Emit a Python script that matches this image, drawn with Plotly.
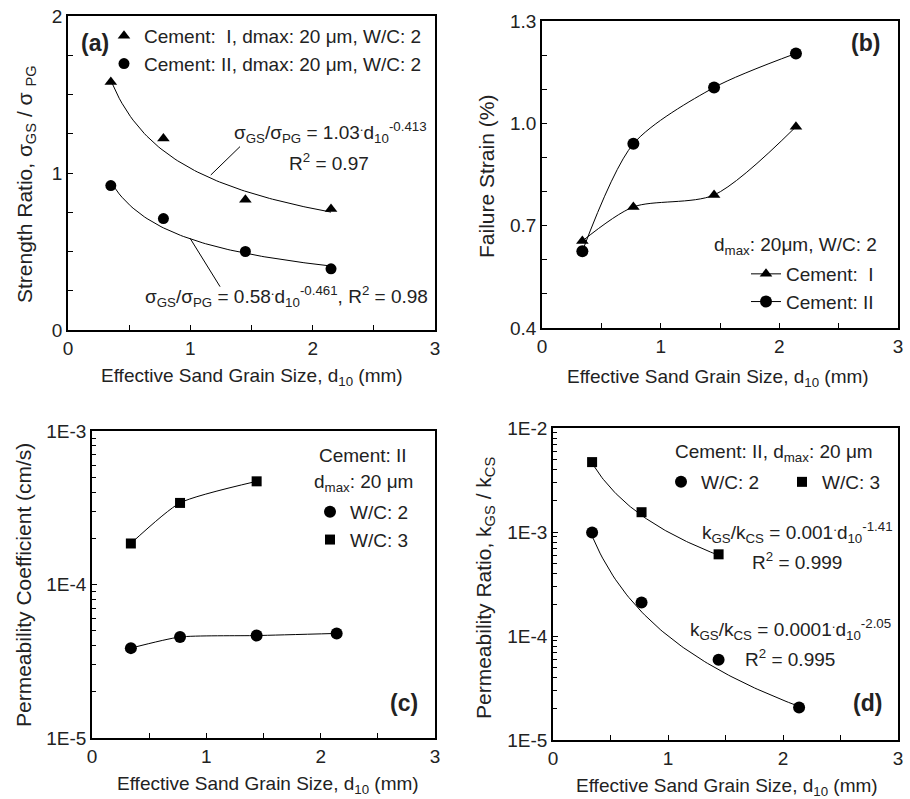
import numpy as np
import plotly.graph_objects as go

# ---------------- data ----------------
# Panel (a): strength ratio
a_d10 = [0.35, 0.78, 1.45, 2.15]
a_cem1 = [1.58, 1.22, 0.83, 0.77]
a_cem2 = [0.92, 0.71, 0.50, 0.39]
a_fit1 = (1.03, -0.413)   # sigma_GS/sigma_PG = 1.03 d10^-0.413
a_fit2 = (0.58, -0.461)   # sigma_GS/sigma_PG = 0.58 d10^-0.461

# Panel (b): failure strain (%)
b_d10 = [0.34, 0.77, 1.45, 2.14]
b_cem1 = [0.655, 0.755, 0.79, 0.99]
b_cem2 = [0.625, 0.94, 1.105, 1.205]

# Panel (c): permeability coefficient (cm/s)
c_d10_wc2 = [0.34, 0.77, 1.44, 2.14]
c_wc2 = [3.85e-5, 4.55e-5, 4.65e-5, 4.8e-5]
c_d10_wc3 = [0.34, 0.77, 1.44]
c_wc3 = [1.85e-4, 3.4e-4, 4.7e-4]

# Panel (d): permeability ratio
d_d10_wc2 = [0.34, 0.77, 1.44, 2.14]
d_wc2 = [9.9e-4, 2.1e-4, 5.9e-5, 2.05e-5]
d_d10_wc3 = [0.34, 0.77, 1.44]
d_wc3 = [4.7e-3, 1.55e-3, 6.1e-4]
d_fit2 = (1e-4, -2.05)
d_fit3 = (1e-3, -1.41)

x_ticks = [0, 1, 2, 3]
b_ticks = [0.4, 0.7, 1.0, 1.3]
b_ticktext = ["0.4", "0.7", "1.0", "1.3"]
c_ticks = [1e-5, 1e-4, 1e-3]
c_ticktext = ["1E-5", "1E-4", "1E-3"]
d_ticks = [1e-5, 1e-4, 1e-3, 1e-2]
d_ticktext = ["1E-5", "1E-4", "1E-3", "1E-2"]

# ---------------- layout helpers ----------------
W, H = 910, 799
FONT = "Liberation Sans, Arial, sans-serif"
FS = 19
FSY = 21                 # vertical axis titles


def px(x):
    return x / W


def py(y):
    return 1 - y / H


def fit_curve(xs, coef):
    xx = np.linspace(min(xs), max(xs), 80)
    return xx, coef[0] * xx ** coef[1]


fig = go.Figure()

line = dict(color="black", width=1)

# (a)
for xs, coef in ((a_d10, a_fit1), (a_d10, a_fit2)):
    xx, yy = fit_curve(xs, coef)
    fig.add_trace(go.Scatter(x=xx, y=yy, mode="lines", line=line, showlegend=False,
                             xaxis="x", yaxis="y", hoverinfo="skip"))
fig.add_trace(go.Scatter(x=a_d10, y=a_cem1, mode="markers", name="Cement:  I, dmax: 20 μm, W/C: 2",
                         marker=dict(symbol="triangle-up", size=11, color="black"),
                         xaxis="x", yaxis="y", legend="legend"))
fig.add_trace(go.Scatter(x=a_d10, y=a_cem2, mode="markers", name="Cement: II, dmax: 20 μm, W/C: 2",
                         marker=dict(symbol="circle", size=11, color="black"),
                         xaxis="x", yaxis="y", legend="legend"))

# (b)
fig.add_trace(go.Scatter(x=b_d10, y=b_cem1, mode="lines+markers", name="Cement:  I",
                         line=dict(color="black", width=1, shape="spline", smoothing=0.8),
                         marker=dict(symbol="triangle-up", size=11, color="black"),
                         xaxis="x2", yaxis="y2", legend="legend2"))
fig.add_trace(go.Scatter(x=b_d10, y=b_cem2, mode="lines+markers", name="Cement: II",
                         line=dict(color="black", width=1, shape="spline", smoothing=0.8),
                         marker=dict(symbol="circle", size=12, color="black"),
                         xaxis="x2", yaxis="y2", legend="legend2"))

# (c)
for xs, ys in ((c_d10_wc2, c_wc2), (c_d10_wc3, c_wc3)):
    fig.add_trace(go.Scatter(x=xs, y=ys, mode="lines", showlegend=False, hoverinfo="skip",
                             line=dict(color="black", width=1, shape="spline", smoothing=0.6),
                             xaxis="x3", yaxis="y3"))
fig.add_trace(go.Scatter(x=c_d10_wc2, y=c_wc2, mode="markers", name="W/C: 2",
                         marker=dict(symbol="circle", size=12, color="black"),
                         xaxis="x3", yaxis="y3", legend="legend3"))
fig.add_trace(go.Scatter(x=c_d10_wc3, y=c_wc3, mode="markers", name="W/C: 3",
                         marker=dict(symbol="square", size=10, color="black"),
                         xaxis="x3", yaxis="y3", legend="legend3"))

# (d)
for xs, coef in ((d_d10_wc2, d_fit2), (d_d10_wc3, d_fit3)):
    xx, yy = fit_curve(xs, coef)
    fig.add_trace(go.Scatter(x=xx, y=yy, mode="lines", line=line, showlegend=False,
                             xaxis="x4", yaxis="y4", hoverinfo="skip"))
fig.add_trace(go.Scatter(x=d_d10_wc2, y=d_wc2, mode="markers", name="W/C: 2",
                         marker=dict(symbol="circle", size=12, color="black"),
                         xaxis="x4", yaxis="y4", legend="legend4"))
fig.add_trace(go.Scatter(x=d_d10_wc3, y=d_wc3, mode="markers", name="W/C: 3",
                         marker=dict(symbol="square", size=10, color="black"),
                         xaxis="x4", yaxis="y4", legend="legend4"))


def xaxis(dom, anchor):
    return dict(domain=dom, anchor=anchor, range=[0, 3], tickvals=x_ticks, automargin=False,
                showline=True, linecolor="black", linewidth=1.5, mirror=True,
                ticks="inside", ticklen=5, tickcolor="black", showgrid=False, zeroline=False,
                ticklabeloverflow="allow",
                tickfont=dict(size=FS, color="#222", family=FONT),
                minor=dict(ticks="inside", ticklen=5, dtick=0.5, tickcolor="black", showgrid=False))


def yaxis(dom, anchor, **kw):
    d = dict(domain=dom, anchor=anchor, automargin=False,
             showline=True, linecolor="black", linewidth=1.5, mirror=True,
             ticks="inside", ticklen=5, tickcolor="black", showgrid=False, zeroline=False,
             ticklabeloverflow="allow",
             tickfont=dict(size=FS, color="#222", family=FONT))
    d.update(kw)
    return d


dom_a = ([px(68), px(435)], [py(330), py(16)])
dom_b = ([px(542), px(898)], [py(328), py(21)])
dom_c = ([px(92), px(435)], [py(738), py(431)])
dom_d = ([px(553), px(898)], [py(740), py(428)])

LEG = dict(xanchor="left", yanchor="top", bgcolor="rgba(0,0,0,0)", font=dict(size=FS))

fig.update_layout(
    width=W, height=H, margin=dict(l=0, r=0, t=0, b=0, autoexpand=False),
    paper_bgcolor="white", plot_bgcolor="white",
    font=dict(family=FONT, size=FS, color="#222"),
    xaxis=xaxis(dom_a[0], "y"),
    yaxis=yaxis(dom_a[1], "x", range=[0, 2], tickvals=[0, 1, 2],
                minor=dict(ticks="inside", ticklen=5, dtick=0.25, tickcolor="black", showgrid=False)),
    xaxis2=xaxis(dom_b[0], "y2"),
    yaxis2=yaxis(dom_b[1], "x2", range=[0.4, 1.3], tickvals=b_ticks, ticktext=b_ticktext,
                 minor=dict(ticks="inside", ticklen=5, dtick=0.1, tick0=0.4, tickcolor="black", showgrid=False)),
    xaxis3=xaxis(dom_c[0], "y3"),
    yaxis3=yaxis(dom_c[1], "x3", type="log", range=[-5, -3], tickvals=c_ticks, ticktext=c_ticktext,
                 minor=dict(ticks="inside", ticklen=4, dtick="D1", tickcolor="black", showgrid=False)),
    xaxis4=xaxis(dom_d[0], "y4"),
    yaxis4=yaxis(dom_d[1], "x4", type="log", range=[-5, -2], tickvals=d_ticks, ticktext=d_ticktext,
                 minor=dict(ticks="inside", ticklen=4, dtick="D1", tickcolor="black", showgrid=False)),
    legend=dict(x=px(104), y=py(17), **LEG),
    legend2=dict(x=px(746), y=py(255), **LEG),
    legend3=dict(x=px(310), y=py(493), **LEG),
    legend4=dict(x=px(661), y=py(463), orientation="h", entrywidth=76, entrywidthmode="pixels", **LEG),
)


def ann(text, x, y, size=FS, bold=False, angle=0, xanchor="center"):
    fig.add_annotation(text=f"<b>{text}</b>" if bold else text, x=px(x), y=py(y),
                       xref="paper", yref="paper", showarrow=False, textangle=angle,
                       xanchor=xanchor, yanchor="middle",
                       font=dict(size=size, family=FONT, color="#222"))


XT = "Effective Sand Grain Size, d<sub>10</sub> (mm)"
ann(XT, 252, 377)
ann(XT, 718, 378)
ann(XT, 268, 785)
ann(XT, 727, 787)
ann("Strength Ratio, σ<sub>GS</sub> / σ <sub>PG</sub>", 26, 184, size=FSY, angle=-90)
ann("Failure Strain (%)", 487, 177, size=FSY, angle=-90)
ann("Permeability Coefficient (cm/s)", 23, 585, size=FSY, angle=-90)
ann("Permeability Ratio, k<sub>GS</sub> / k<sub>CS</sub>", 485, 588, size=FSY, angle=-90)

ann("(a)", 95, 43, size=23, bold=True)
ann("(b)", 865, 43, size=23, bold=True)
ann("(c)", 404, 703, size=23, bold=True)
ann("(d)", 867, 703, size=23, bold=True)

ann("σ<sub>GS</sub>/σ<sub>PG</sub> = 1.03<sup>.</sup>d<sub>10</sub><sup>-0.413</sup>", 232, 132, xanchor="left")
ann("R<sup>2</sup> = 0.97", 287, 162, xanchor="left")
ann("σ<sub>GS</sub>/σ<sub>PG</sub> = 0.58<sup>.</sup>d<sub>10</sub><sup>-0.461</sup>, R<sup>2</sup> = 0.98", 143, 296, xanchor="left")

ann("d<sub>max</sub>: 20μm, W/C: 2", 712, 246, xanchor="left")
ann("Cement: II", 363, 455)
ann("d<sub>max</sub>: 20 μm", 363, 483)
ann("Cement: II, d<sub>max</sub>: 20 μm", 673, 453, xanchor="left")

ann("k<sub>GS</sub>/k<sub>CS</sub> = 0.001<sup>.</sup>d<sub>10</sub><sup>-1.41</sup>", 700, 532, xanchor="left")
ann("R<sup>2</sup> = 0.999", 750, 561, xanchor="left")
ann("k<sub>GS</sub>/k<sub>CS</sub> = 0.0001<sup>.</sup>d<sub>10</sub><sup>-2.05</sup>", 688, 629, xanchor="left")
ann("R<sup>2</sup> = 0.995", 743, 658, xanchor="left")

# leader lines in (a)
fig.add_shape(type="line", xref="x", yref="y", x0=1.406, y0=1.168, x1=1.167, y1=0.987,
              line=dict(color="black", width=1))
fig.add_shape(type="line", xref="x", yref="y", x0=0.998, y0=0.584, x1=1.243, y1=0.276,
              line=dict(color="black", width=1))

# remove the default page margin so the 910x799 figure fills the window exactly
fig.write_html("out.html", config={"displayModeBar": False},
               post_script="document.body.style.margin='0';document.body.style.overflow='hidden';")
